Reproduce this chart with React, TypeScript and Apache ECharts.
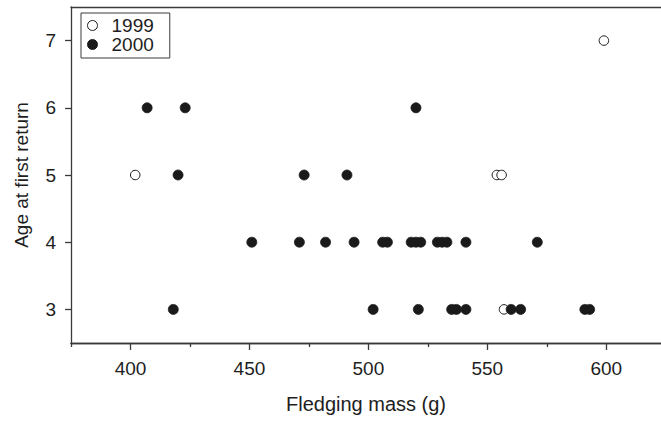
import React, { useEffect, useRef } from "react";
import * as echarts from "echarts";

const majorTicks = [400, 450, 500, 550, 600];
const minorTicks = [375, 425, 475, 525, 575];
const yTicks = [3, 4, 5, 6, 7];

const mass1999 = [402, 554, 556, 557, 599];
const age1999 = [5, 5, 5, 3, 7];

const mass2000 = [
  407, 423, 520,
  420, 473, 491,
  451, 471, 482, 494, 506, 508, 518, 520, 522, 529, 531, 533, 541, 571,
  418, 502, 521, 535, 537, 541, 560, 564, 591, 593,
];
const age2000 = [
  6, 6, 6,
  5, 5, 5,
  4, 4, 4, 4, 4, 4, 4, 4, 4, 4, 4, 4, 4, 4,
  3, 3, 3, 3, 3, 3, 3, 3, 3, 3,
];

const FONT = "'Liberation Sans', Arial, Helvetica, sans-serif";
const TEXT = "#1e1e1e";
const LINE = "#3a3a3a";

export default function App() {
  const ref = useRef<HTMLDivElement>(null);
  useEffect(() => {
    if (!ref.current) return;
    const chart = echarts.init(ref.current, null, { renderer: "svg" });
    const axisCommon = {
      type: "value" as const,
      min: 375,
      max: 623,
      splitLine: { show: false },
      axisLine: { show: true, onZero: false, lineStyle: { color: LINE, width: 1.3 } },
    };
    chart.setOption({
      animation: false,
      backgroundColor: "#fff",
      textStyle: { fontFamily: FONT },
      grid: { left: 71, right: 0, top: 7, bottom: 79 },
      legend: {
        orient: "vertical",
        left: 81,
        top: 13,
        padding: [3, 16, 4, 6],
        itemGap: 0,
        itemWidth: 10,
        itemHeight: 10,
        borderColor: LINE,
        borderWidth: 1,
        borderRadius: 0,
        itemStyle: { borderWidth: 1 },
        textStyle: { fontSize: 19, color: TEXT, fontFamily: FONT, padding: [0, 0, 0, 9], lineHeight: 19 },
        data: [
          { name: "1999", icon: "circle" },
          { name: "2000", icon: "circle" },
        ],
      },
      xAxis: [
        {
          ...axisCommon,
          position: "bottom",
          name: "Fledging mass (g)",
          nameLocation: "middle",
          nameGap: 51,
          nameTextStyle: { fontSize: 20, color: TEXT, fontFamily: FONT },
          axisTick: { show: true, customValues: majorTicks, length: 7, lineStyle: { color: LINE, width: 1.3 } },
          axisLabel: { show: true, customValues: majorTicks, fontSize: 19, color: TEXT, margin: 16, fontFamily: FONT },
        },
        {
          ...axisCommon,
          position: "bottom",
          axisTick: { show: true, customValues: minorTicks, length: 4, lineStyle: { color: LINE, width: 1.3 } },
          axisLabel: { show: false },
        },
        {
          ...axisCommon,
          position: "top",
          axisTick: { show: false },
          axisLabel: { show: false },
        },
      ],
      yAxis: {
        type: "value",
        min: 2.5,
        max: 7.5,
        splitLine: { show: false },
        name: "Age at first return",
        nameLocation: "middle",
        nameGap: 40,
        nameTextStyle: { fontSize: 19, color: TEXT, fontFamily: FONT },
        axisLine: { show: true, onZero: false, lineStyle: { color: LINE, width: 1.3 } },
        axisTick: { show: true, customValues: yTicks, length: 6, lineStyle: { color: LINE, width: 1.3 } },
        axisLabel: { show: true, customValues: yTicks, fontSize: 19, color: TEXT, margin: 15, fontFamily: FONT },
      },
      series: [
        {
          name: "1999",
          type: "scatter",
          xAxisIndex: 0,
          symbol: "circle",
          symbolSize: 9.5,
          itemStyle: { color: "#fff", borderColor: "#1a1a1a", borderWidth: 1, opacity: 1 },
          data: mass1999.map((m, i) => [m, age1999[i]]),
        },
        {
          name: "2000",
          type: "scatter",
          xAxisIndex: 0,
          symbol: "circle",
          symbolSize: 10,
          itemStyle: { color: "#1a1a1a", borderColor: "#1a1a1a", borderWidth: 0.8, opacity: 1 },
          data: mass2000.map((m, i) => [m, age2000[i]]),
        },
      ],
    });
    return () => chart.dispose();
  }, []);
  return <div ref={ref} style={{ position: "fixed", left: 0, top: 0, width: 661, height: 422 }} />;
}
